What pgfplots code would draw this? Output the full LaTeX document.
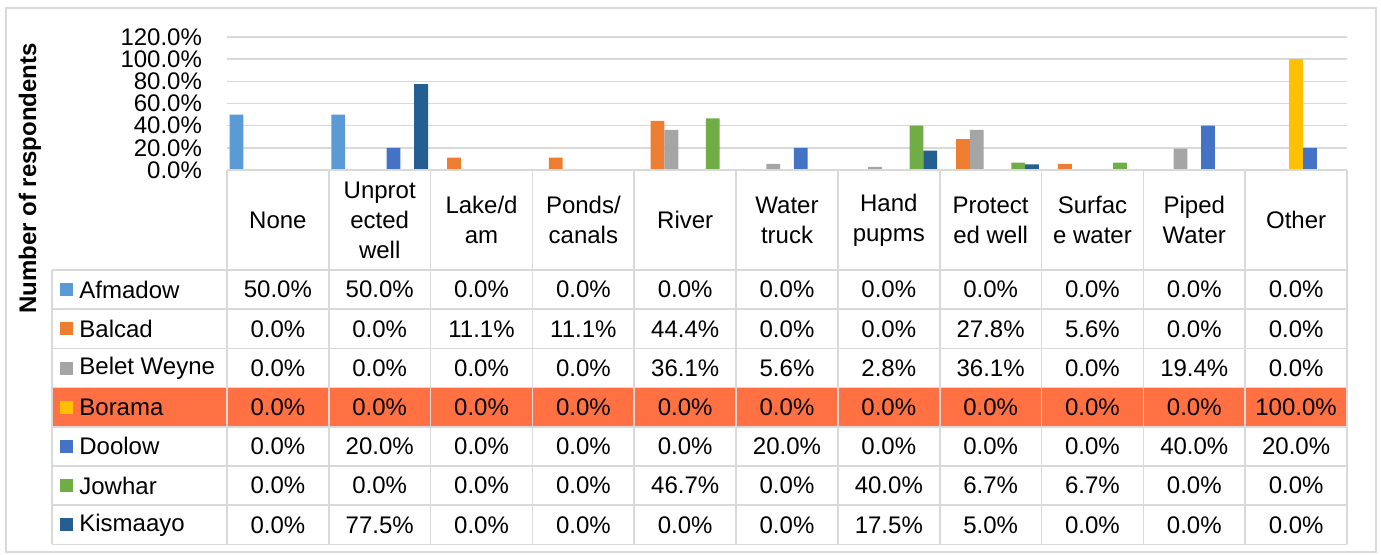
\documentclass[border=0pt]{standalone}
\usepackage{pgfplots}
\usepackage{pgfplotstable}
\pgfplotsset{compat=1.18}
\usepackage{fontspec}
\setmainfont{Liberation Sans}

\definecolor{cAf}{HTML}{5B9BD5}
\definecolor{cBa}{HTML}{ED7D31}
\definecolor{cBW}{HTML}{A5A5A5}
\definecolor{cBo}{HTML}{FFC000}
\definecolor{cDo}{HTML}{4472C4}
\definecolor{cJo}{HTML}{70AD47}
\definecolor{cKi}{HTML}{255E91}
\definecolor{hilite}{HTML}{FF7043}
\definecolor{gridc}{HTML}{D9D9D9}

% one row per water source, one column per district (percent)
\pgfplotstableread{
x  Afmadow Balcad BeletWeyne Borama Doolow Jowhar Kismaayo
0  50.0    0.0    0.0        0.0    0.0    0.0    0.0
1  50.0    0.0    0.0        0.0    20.0   0.0    77.5
2  0.0     11.1   0.0        0.0    0.0    0.0    0.0
3  0.0     11.1   0.0        0.0    0.0    0.0    0.0
4  0.0     44.4   36.1       0.0    0.0    46.7   0.0
5  0.0     0.0    5.6        0.0    20.0   0.0    0.0
6  0.0     0.0    2.8        0.0    0.0    40.0   17.5
7  0.0     27.8   36.1       0.0    0.0    6.7    5.0
8  0.0     5.6    0.0        0.0    0.0    6.7    0.0
9  0.0     0.0    19.4       0.0    40.0   0.0    0.0
10 0.0     0.0    0.0        100.0  20.0   0.0    0.0
}\datatable

\begin{document}
\begin{tikzpicture}[font=\fontsize{12}{15}\selectfont]
% page size and outer frame
\path (-113.5pt,85pt) rectangle (577pt,-192pt);
\draw[gridc,line width=0.8pt] (-110.5pt,81pt) rectangle (574.5pt,-191pt);

\begin{axis}[
  at={(0,0)}, anchor=south west,
  scale only axis, width=560pt, height=66.5pt,
  xmin=-0.5, xmax=10.5, ymin=0, ymax=120,
  ybar=0pt, bar width=6.9pt,
  axis line style={draw=none},
  xtick=\empty,
  ytick={0,20,...,120},
  yticklabel={\pgfmathprintnumber[fixed,fixed zerofill,precision=1]{\tick}\%},
  /pgf/number format/assume math mode=true,
  yticklabel style={font=\fontsize{12}{12}\selectfont, xshift=-9pt},
  major tick length=0pt,
  ymajorgrids, grid style={gridc,line width=0.8pt},
  clip=false,
]
\addplot[fill=cAf,draw=none] table[x=x,y=Afmadow]{\datatable};
\addplot[fill=cBa,draw=none] table[x=x,y=Balcad]{\datatable};
\addplot[fill=cBW,draw=none] table[x=x,y=BeletWeyne]{\datatable};
\addplot[fill=cBo,draw=none] table[x=x,y=Borama]{\datatable};
\addplot[fill=cDo,draw=none] table[x=x,y=Doolow]{\datatable};
\addplot[fill=cJo,draw=none] table[x=x,y=Jowhar]{\datatable};
\addplot[fill=cKi,draw=none] table[x=x,y=Kismaayo]{\datatable};
\end{axis}

% y label
\node[rotate=90,font=\fontsize{12}{12}\selectfont\bfseries] at (-98.5pt,-4.25pt) {Number of respondents};

% data table
\def\cw{50.909pt}
\def\rh{19.6pt}
\fill[hilite] (-87.5pt,-50pt-3*\rh) rectangle (560pt,-50pt-4*\rh);
\foreach \i in {0,...,11}
  \draw[gridc,line width=0.8pt] (\i*\cw,0) -- (\i*\cw,-50pt-7*\rh);
\draw[gridc,line width=0.8pt] (-87.5pt,-50pt) -- (-87.5pt,-50pt-7*\rh);
\draw[gridc,line width=0.8pt] (0,0) -- (560pt,0);
\foreach \k in {0,...,7}
  \draw[gridc,line width=0.8pt] (-87.5pt,-50pt-\k*\rh) -- (560pt,-50pt-\k*\rh);

\foreach \lab [count=\i from 0] in {None,{Unprot\\ected\\well},{Lake/d\\am},{Ponds/\\canals},River,{Water\\truck},{Hand\\pupms},{Protect\\ed well},{Surfac\\e water},{Piped\\Water},Other}
  \node[align=center,inner sep=0pt] at ({(\i+0.5)*\cw},-25pt) {\lab};

\foreach \s/\name/\col [count=\k from 0] in {Afmadow/Afmadow/cAf,Balcad/Balcad/cBa,BeletWeyne/Belet Weyne/cBW,Borama/Borama/cBo,Doolow/Doolow/cDo,Jowhar/Jowhar/cJo,Kismaayo/Kismaayo/cKi} {
  \fill[\col] (-83.5pt,{-50pt-(\k+0.5)*\rh-3.25pt}) rectangle ++(6.5pt,6.5pt);
  \node[anchor=west,inner sep=0pt] at (-74pt,{-50pt-(\k+0.5)*\rh}) {\name};
  \foreach \c in {0,...,10} {
    \pgfplotstablegetelem{\c}{\s}\of\datatable
    \node[inner sep=0pt] at ({(\c+0.5)*\cw},{-50pt-(\k+0.5)*\rh})
      {\pgfmathprintnumber[fixed,fixed zerofill,precision=1,assume math mode=true]{\pgfplotsretval}\%};
  }
}
\end{tikzpicture}
\end{document}
